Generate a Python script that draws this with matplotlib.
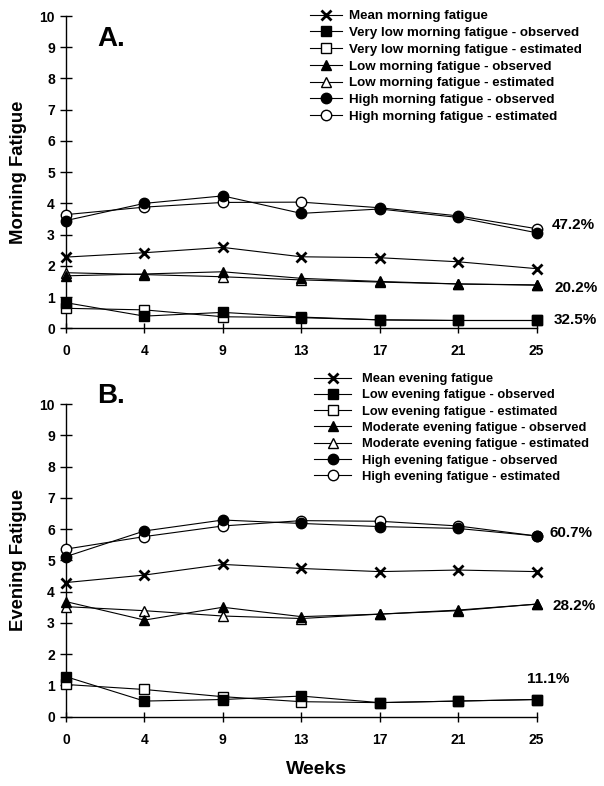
import matplotlib
matplotlib.use("Agg")
import matplotlib.pyplot as plt

plt.rcParams["font.family"] = ["Liberation Sans", "DejaVu Sans"]
plt.rcParams["font.weight"] = "bold"

WEEKS = ["0", "4", "9", "13", "17", "21", "25"]

# Panel A - morning fatigue
mean_morning = [2.28, 2.42, 2.59, 2.29, 2.26, 2.13, 1.91]
vlow_m_obs = [0.82, 0.39, 0.51, 0.36, 0.27, 0.25, 0.25]
vlow_m_est = [0.64, 0.59, 0.37, 0.34, 0.27, 0.25, 0.25]
low_m_obs = [1.68, 1.74, 1.81, 1.60, 1.50, 1.42, 1.39]
low_m_est = [1.78, 1.72, 1.65, 1.55, 1.48, 1.42, 1.38]
high_m_obs = [3.45, 4.00, 4.24, 3.68, 3.82, 3.55, 3.06]
high_m_est = [3.64, 3.88, 4.03, 4.04, 3.86, 3.60, 3.19]
pct_morning = [("47.2%", 6.2, 3.3), ("20.2%", 6.23, 1.3), ("32.5%", 6.22, 0.25)]

# Panel B - evening fatigue
mean_evening = [4.29, 4.53, 4.87, 4.74, 4.64, 4.69, 4.64]
low_e_obs = [1.28, 0.50, 0.55, 0.66, 0.45, 0.50, 0.55]
low_e_est = [1.03, 0.87, 0.64, 0.48, 0.45, 0.50, 0.55]
mod_e_obs = [3.68, 3.09, 3.50, 3.20, 3.28, 3.41, 3.60]
mod_e_est = [3.52, 3.39, 3.22, 3.14, 3.28, 3.39, 3.60]
high_e_obs = [5.12, 5.94, 6.29, 6.18, 6.08, 6.02, 5.78]
high_e_est = [5.36, 5.76, 6.10, 6.27, 6.25, 6.10, 5.78]
pct_evening = [("60.7%", 6.16, 5.88), ("28.2%", 6.2, 3.54), ("11.1%", 5.88, 1.2)]


def _panel(ax, series, pct, letter, letter_y, ylabel, legend_xy, leg_size, hlen, hpad, lspace):
    x = list(range(len(WEEKS)))
    handles = []
    for label, vals, marker, filled, ms in series:
        (h,) = ax.plot(
            x, vals, color="black", lw=0.8, marker=marker, markersize=ms,
            markerfacecolor="black" if filled else "white",
            markeredgecolor="black", markeredgewidth=1.0 if marker != "x" else 2.0,
            label=label, clip_on=False, zorder=4 if filled else 3,
        )
        handles.append(h)
    ax.set_xlim(0, 6)
    ax.set_ylim(0, 10)
    ax.set_xticks(x)
    ax.set_xticklabels(WEEKS)
    ax.set_yticks(range(0, 11))
    for s in ("top", "right"):
        ax.spines[s].set_visible(False)
    ax.spines["left"].set_linewidth(1.0)
    ax.spines["bottom"].set_linewidth(1.0)
    ax.tick_params(axis="y", direction="inout", length=8, width=1.0, labelsize=10, pad=4)
    ax.tick_params(axis="x", direction="inout", length=7, width=1.0, labelsize=10, pad=8)
    for t in ax.get_xticklabels() + ax.get_yticklabels():
        t.set_fontweight("bold")
    ax.set_ylabel(ylabel, fontsize=13.3, fontweight="bold", labelpad=9)
    ax.text(0.066, letter_y, letter, transform=ax.transAxes,
            fontsize=20, fontweight="bold", va="center")
    for text, xv, yv in pct:
        ax.text(xv, yv, text, fontsize=11, fontweight="bold", va="center",
                ha="left", clip_on=False)
    fig = ax.figure
    leg = fig.legend(handles=handles, loc="upper left", bbox_to_anchor=legend_xy,
                     frameon=False, fontsize=leg_size, handlelength=hlen, handletextpad=hpad,
                     labelspacing=lspace, borderaxespad=0, borderpad=0)
    for t in leg.get_texts():
        t.set_fontweight("bold")


fig = plt.figure(figsize=(6.04, 7.86), dpi=100)
ax_a = fig.add_axes([66 / 604, 1 - 328.3 / 786, 470.5 / 604, 312.3 / 786])
ax_b = fig.add_axes([66 / 604, 1 - 716.7 / 786, 470.5 / 604, 312.7 / 786])

series_a = [
    ("Mean morning fatigue", mean_morning, "x", True, 7.5),
    ("Very low morning fatigue - observed", vlow_m_obs, "s", True, 6.5),
    ("Very low morning fatigue - estimated", vlow_m_est, "s", False, 6.5),
    ("Low morning fatigue - observed", low_m_obs, "^", True, 7.5),
    ("Low morning fatigue - estimated", low_m_est, "^", False, 7.5),
    ("High morning fatigue - observed", high_m_obs, "o", True, 7.5),
    ("High morning fatigue - estimated", high_m_est, "o", False, 7.5),
]
series_b = [
    ("Mean evening fatigue", mean_evening, "x", True, 7.5),
    ("Low evening fatigue - observed", low_e_obs, "s", True, 6.5),
    ("Low evening fatigue - estimated", low_e_est, "s", False, 6.5),
    ("Moderate evening fatigue - observed", mod_e_obs, "^", True, 7.5),
    ("Moderate evening fatigue - estimated", mod_e_est, "^", False, 7.5),
    ("High evening fatigue - observed", high_e_obs, "o", True, 7.5),
    ("High evening fatigue - estimated", high_e_est, "o", False, 7.5),
]

_panel(ax_a, series_a, pct_morning, "A.", 0.925, "Morning Fatigue",
       (310 / 604, 1 - 10 / 786), 9.6, 2.4, 0.5, 0.33)
_panel(ax_b, series_b, pct_evening, "B.", 1.026, "Evening Fatigue",
       (314 / 604, 1 - 373 / 786), 9.3, 2.9, 0.78, 0.33)

fig.text(317 / 604, 1 - 770 / 786, "Weeks", ha="center", va="center", fontsize=14, fontweight="bold")

fig.savefig("out.png", dpi=100)
